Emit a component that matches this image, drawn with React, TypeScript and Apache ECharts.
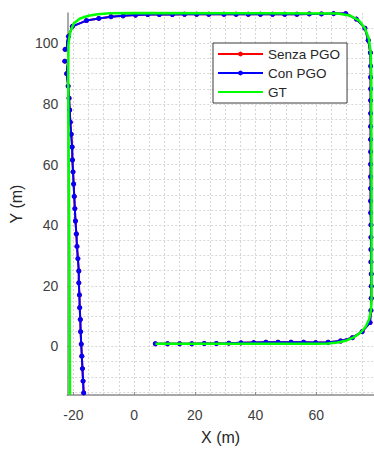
import React, { useEffect, useRef } from "react";
import * as echarts from "echarts";

// Tick labels (multiples of 20) and dotted grid lines (every 5 m)
const xTicks = [-20, 0, 20, 40, 60];
const yTicks = [0, 20, 40, 60, 80, 100];
const xGrid = [-20, -15, -10, -5, 0, 5, 10, 15, 20, 25, 30, 35, 40, 45, 50, 55, 60, 65, 70, 75];
const yGrid = [-15, -10, -5, 0, 5, 10, 15, 20, 25, 30, 35, 40, 45, 50, 55, 60, 65, 70, 75, 80, 85, 90, 95, 100, 105];

const seriesNames = ["Senza PGO", "Con PGO", "GT"];

// "Con PGO" trajectory (m)
const conX = [
  7.0, 11.0, 15.0, 19.0, 23.1, 27.1, 31.2, 35.2, 39.4, 43.4, 47.4, 51.7, 55.8, 59.8, 63.9, 68.0, 71.9, 75.1, 77.7,
  78.0, 78.1, 78.1, 78.1, 78.0, 78.0, 78.0, 78.0, 77.9, 77.9, 77.9, 77.9, 77.9, 77.9, 77.9, 77.9, 77.9, 77.9, 77.9, 77.9, 77.9, 77.8, 77.1,
  76.0, 73.2, 69.7, 65.7, 61.7, 57.7, 53.6, 49.6, 45.6, 41.6, 37.6, 33.6, 29.6, 24.6, 20.6, 16.6, 12.6, 8.3, 4.5, 0.5, -3.6, -7.6, -11.6, -15.7, -20.3,
  -21.6, -22.7, -22.8, -22.2, -21.7, -21.4, -21.2, -21.0, -20.7, -20.4, -20.3, -20.1, -19.9, -19.7, -19.5, -19.3, -19.0, -18.8, -18.5, -18.2,
  -18.2, -18.0, -17.9, -17.7, -17.6, -17.4, -17.2, -17.0, -16.8, -16.6,
];
const conY = [
  0.9, 0.9, 0.9, 0.9, 1.0, 1.0, 1.1, 1.2, 1.3, 1.4, 1.4, 1.4, 1.4, 1.3, 1.4, 1.8, 2.9, 4.9, 7.9,
  11.9, 15.9, 19.9, 23.9, 27.9, 32.0, 36.0, 40.1, 44.1, 48.0, 52.1, 56.0, 60.1, 64.2, 68.3, 72.6, 76.9, 81.2, 85.0, 88.8, 92.5, 96.9, 101.0,
  105.0, 108.0, 109.8, 109.8, 109.7, 109.7, 109.6, 109.6, 109.6, 109.6, 109.6, 109.6, 109.6, 109.6, 109.6, 109.6, 109.5, 109.5, 109.5, 109.3, 109.1, 108.8, 108.2, 107.5, 105.6,
  102.3, 98.0, 94.1, 90.0, 85.9, 81.9, 78.0, 74.0, 70.0, 65.8, 61.5, 57.6, 53.6, 49.5, 45.5, 41.4, 37.1, 33.0, 29.0, 24.9,
  21.0, 17.0, 12.8, 8.9, 4.9, 0.8, -3.2, -7.3, -11.4, -15.3,
];

// "Senza PGO" trajectory (hidden under "Con PGO" in the picture)
const senzaX = conX.slice();
const senzaY = conY.slice();

// Ground truth (m)
const gtX = [
  7.0, 30, 60, 64, 67, 70, 72.5, 74.6, 76.3, 77.4, 78.0, 78.2, 78.2, 78.1, 77.9, 77.3, 76.0, 74.0, 71.0, 67.0, 40, 0,
  -8, -12, -15, -17.8, -19.8, -21.0, -21.6, -21.7, -21.5, -21.3, -21.1,
];
const gtY = [
  0.9, 0.9, 0.9, 1.0, 1.3, 2.0, 3.1, 4.6, 6.6, 9.0, 11.8, 16, 50, 90, 97, 101.5, 105, 107.6, 109.2, 109.8, 109.9, 110.0,
  109.9, 109.6, 109.1, 108.2, 106.6, 103.8, 100, 90, 60, 30, -16,
];

const zip = (xs: number[], ys: number[]) => xs.map((x, i) => [x, ys[i]]);

const FONT = "'Liberation Sans', Arial, Helvetica, sans-serif";
const AXIS_COLOR = "#8c8c8c";
const GRID_COLOR = "#d6d6d6";

export default function App() {
  const ref = useRef<HTMLDivElement>(null);
  useEffect(() => {
    const chart = echarts.init(ref.current!, undefined, { renderer: "svg" });
    const option: any = {
      animation: false,
      backgroundColor: "#ffffff",
      textStyle: { fontFamily: FONT },
      grid: { left: 64, top: 13, width: 311.4, height: 388, containLabel: false },
      xAxis: [
        {
          type: "value",
          min: -22,
          max: 79,
          position: "bottom",
          axisLine: { show: true, onZero: false, lineStyle: { color: AXIS_COLOR, width: 1.5 } },
          axisTick: { show: true, inside: true, length: 3, customValues: xTicks, lineStyle: { color: AXIS_COLOR } },
          axisLabel: { customValues: xTicks, color: "#404040", fontSize: 14, margin: 13, fontFamily: FONT },
          splitLine: { show: false },
          name: "X (m)",
          nameLocation: "middle",
          nameGap: 34,
          nameTextStyle: { fontSize: 16, color: "#262626", fontFamily: FONT },
        },
        {
          type: "value",
          min: -22,
          max: 79,
          position: "bottom",
          axisLine: { show: false, onZero: false },
          axisTick: { show: false, customValues: xGrid },
          axisLabel: { show: false },
          splitLine: { show: true, lineStyle: { color: GRID_COLOR, type: [2, 2], width: 1 } },
        },
      ],
      yAxis: [
        {
          type: "value",
          min: -16,
          max: 110,
          position: "left",
          axisLine: { show: true, onZero: false, lineStyle: { color: AXIS_COLOR, width: 1.5 } },
          axisTick: { show: true, inside: true, length: 3, customValues: yTicks, lineStyle: { color: AXIS_COLOR } },
          axisLabel: { customValues: yTicks, color: "#404040", fontSize: 14, margin: 9, fontFamily: FONT },
          splitLine: { show: false },
          name: "Y (m)",
          nameLocation: "middle",
          nameGap: 38,
          nameTextStyle: { fontSize: 16, color: "#262626", fontFamily: FONT },
        },
        {
          type: "value",
          min: -16,
          max: 110,
          position: "left",
          axisLine: { show: false, onZero: false },
          axisTick: { show: false, customValues: yGrid },
          axisLabel: { show: false },
          splitLine: { show: true, lineStyle: { color: GRID_COLOR, type: [2, 2], width: 1 } },
        },
      ],
      legend: {
        orient: "vertical",
        left: 213,
        top: 43,
        data: [
          { name: seriesNames[0] },
          { name: seriesNames[1] },
          { name: seriesNames[2], itemStyle: { opacity: 0 } },
        ],
        itemWidth: 45,
        itemHeight: 6,
        itemGap: 5,
        backgroundColor: "#ffffff",
        borderColor: "#3a3a3a",
        borderWidth: 1,
        borderRadius: 0,
        padding: [4, 7, 4, 4],
        textStyle: { fontSize: 13.5, color: "#262626", fontFamily: FONT, lineHeight: 14 },
      },
      series: [
        {
          name: seriesNames[0],
          type: "line",
          data: zip(senzaX, senzaY),
          symbol: "circle",
          symbolSize: 5,
          showSymbol: true,
          clip: false,
          itemStyle: { color: "#ff0000" },
          lineStyle: { color: "#ff0000", width: 2 },
          z: 2,
        },
        {
          name: seriesNames[1],
          type: "line",
          data: zip(conX, conY),
          symbol: "circle",
          symbolSize: 5,
          showSymbol: true,
          clip: false,
          itemStyle: { color: "#0000ff" },
          lineStyle: { color: "#0000ff", width: 2 },
          z: 3,
        },
        {
          name: seriesNames[2],
          type: "line",
          data: zip(gtX, gtY),
          symbol: "none",
          clip: false,
          itemStyle: { color: "#00ff00" },
          lineStyle: { color: "#00ff00", width: 2.5 },
          z: 4,
        },
      ],
    };
    chart.setOption(option);
    return () => chart.dispose();
  }, []);
  return (
    <div
      ref={ref}
      style={{ position: "fixed", left: 0, top: 0, width: 374, height: 450, background: "#ffffff" }}
    />
  );
}
